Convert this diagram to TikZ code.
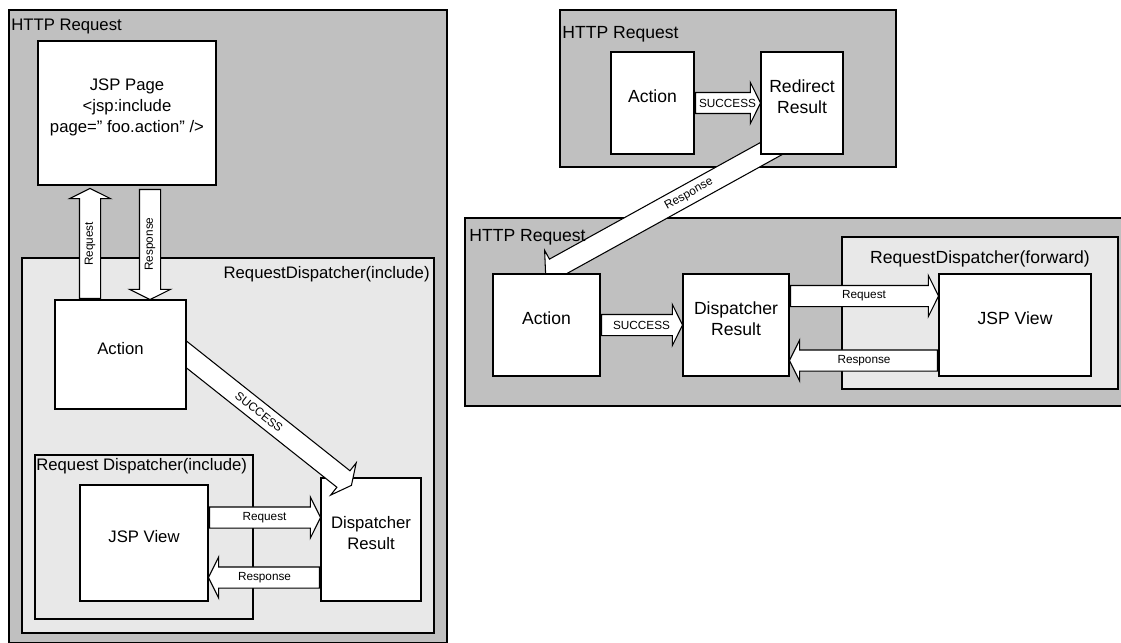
\documentclass[tikz,border=0pt]{standalone}
\usepackage{fontspec}
\setmainfont{Liberation Sans}
\usetikzlibrary{shapes.arrows,fit,calc}

\definecolor{reqgray}{RGB}{192,192,192}
\definecolor{dispgray}{RGB}{232,232,232}

\pgfdeclarelayer{panel}
\pgfdeclarelayer{under}
\pgfdeclarelayer{top}
\pgfsetlayers{panel,under,main,top}

\tikzset{
  panel/.style={draw, line width=1.1pt, fill=reqgray, inner sep=0pt},
  dispatch/.style={panel, fill=dispgray},
  box/.style={draw, line width=1.1pt, fill=white, inner sep=0pt, align=center},
  fat arrow/.style={single arrow, draw, line width=0.6pt, fill=white,
    inner xsep=0pt, inner ysep=0.2cm, single arrow head extend=0.2cm,
    single arrow tip angle=127},
  arrow label/.style={font=\fontsize{6.7}{8}\selectfont, inner sep=0pt},
  title/.style={inner sep=0pt},
}

% hollow arrow between two points: [text turn]{name}{from}{to}{text}
\newcommand{\fatarrow}[5][0]{%
  \path let \p1=(#3), \p2=(#4), \n1={atan2(\y2-\y1,\x2-\x1)},
    \n2={veclen(\x2-\x1,\y2-\y1)} in
    node[fat arrow, minimum height=\n2, rotate=\n1, anchor=tail] (#2) at (\p1) {}
    node[arrow label, rotate=\n1+#1] (#2-text) at ($(\p1)!0.5!(\p2)$) {#5};}

\begin{document}
\begin{tikzpicture}[x=0.02cm, y=-0.02cm, font=\fontsize{10}{12}\selectfont]
\useasboundingbox (0,0) rectangle (1121,642);

% frames
\begin{pgfonlayer}{panel}
\node[panel, fit={(9,10) (447,643)}] (http1) {};
\node[dispatch, fit={(22,258) (434,633)}] (incl1) {};
\node[dispatch, fit={(35,455) (253,619)}] (incl2) {};
\node[panel, fit={(560,10) (896,167)}] (http2) {};
\node[panel, fit={(465,218) (1123,406)}] (http3) {};
\node[dispatch, fit={(842,237) (1118,389)}] (fwd) {};
\end{pgfonlayer}

% include case
\begin{scope}[font=\fontsize{9.5}{11.9}\selectfont]
\node[title, anchor=base west] (http1-t) at ([shift={(3,21)}]http1.north west) {HTTP Request};
\node[title, anchor=base east] (incl1-t) at ([shift={(-5,21)}]incl1.north east) {RequestDispatcher(include)};
\node[title, anchor=base west] (incl2-t) at ([shift={(2,16)}]incl2.north west) {Request Dispatcher(include)};

\node[box, fit={(38,41) (216,185)}] (page) {JSP Page\\<jsp:include\\page=” foo.action” />};
\begin{pgfonlayer}{top}
\node[box, fit={(55,300) (186,409)}] (act) {Action};
\end{pgfonlayer}
\node[box, fit={(80,485) (208,601)}] (view) {JSP View};
\node[box, fit={(321,478) (421,601)}] (disp) {Dispatcher\\Result};
\end{scope}

\fatarrow{lreq}{$(act.north west)+(36,0)$}{$(page.south west)+(53,3)$}{Request}
\fatarrow[180]{lresp}{$(page.south west)+(113,3)$}{$(act.north west)+(96,0)$}{Response}
\fatarrow{lsucc}{$(act.east)+(-20,-15.5)$}{$(disp.north west)+(31,8)$}{SUCCESS}
\fatarrow{lreq2}{$(view.east)+(0,-25.5)$}{$(disp.west)+(0,-22)$}{Request}
\fatarrow[180]{lresp2}{$(disp.west)+(0,38)$}{$(view.east)+(0,34.5)$}{Response}

% redirect and forward case
\node[title, anchor=base west] (http2-t) at ([shift={(3,29)}]http2.north west) {HTTP Request};
\node[title, anchor=base west] (http3-t) at ([shift={(5,24)}]http3.north west) {HTTP Request};
\node[title, anchor=base] (fwd-t) at ([shift={(0,27)}]fwd.north) {RequestDispatcher(forward)};

\node[box, fit={(611,52) (694,154)}] (act1) {Action};
\node[box, fit={(761,52) (843,154)}] (redir) {Redirect\\Result};
\node[box, fit={(493,274) (600,376)}] (act2) {Action};
\node[box, fit={(683,274) (789,376)}] (disp2) {Dispatcher\\Result};
\node[box, fit={(939,274) (1091,376)}] (view2) {JSP View};

\fatarrow{rsucc1}{act1.east}{redir.west}{SUCCESS}
\fatarrow{rsucc2}{act2.east}{disp2.west}{SUCCESS}
\fatarrow{rreq}{$(disp2.east)+(0,-29)$}{$(view2.west)+(0,-29)$}{Request}
\fatarrow[180]{rresp}{$(view2.west)+(0,35.5)$}{$(disp2.east)+(0,35.5)$}{Response}

\begin{pgfonlayer}{under}
\fatarrow[180]{redirresp}{$(redir.south west)+(72,-40)$}{$(act2.north west)+(54,0)$}{Response}
\end{pgfonlayer}
\end{tikzpicture}
\end{document}
